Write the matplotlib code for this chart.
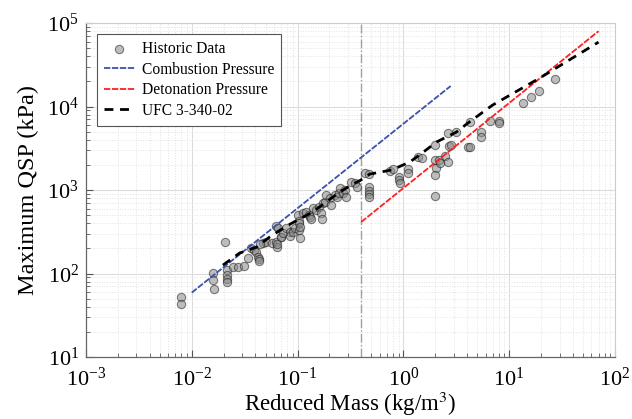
import matplotlib
matplotlib.use("Agg")
import matplotlib.pyplot as plt
import numpy as np

plt.rcParams['font.family'] = ['Liberation Serif', 'DejaVu Serif']
plt.rcParams['mathtext.fontset'] = 'stix'

# Historic data (reduced mass kg/m^3, max QSP kPa)
hist_x = [0.00783, 0.00789, 0.0158, 0.0158, 0.0162, 0.0208, 0.0214, 0.0214, 0.0214, 0.0214,
          0.0243, 0.0274, 0.0310, 0.0341, 0.0367, 0.0385, 0.0409, 0.0424, 0.0433, 0.0428,
          0.0472, 0.0508, 0.0568, 0.0440, 0.0632, 0.0655, 0.0691, 0.0632, 0.0640, 0.0640,
          0.0705, 0.0729, 0.0785, 0.0843, 0.0857, 0.0908, 0.0942, 0.1033, 0.105, 0.101,
          0.1033, 0.1033, 0.1065, 0.1127, 0.121, 0.1285, 0.130, 0.135, 0.140, 0.151,
          0.1596, 0.168, 0.172, 0.174, 0.181, 0.1875, 0.201, 0.209, 0.224, 0.236,
          0.247, 0.250, 0.269, 0.279, 0.285, 0.323, 0.347, 0.362, 0.432, 0.473,
          0.473, 0.473, 0.473, 0.473, 0.743, 0.798, 0.908, 0.908, 0.923, 1.105,
          1.105, 1.374, 1.489, 1.976, 1.976, 2.018, 1.976, 1.976, 2.17, 2.20,
          2.455, 2.64, 2.64, 2.70, 2.84, 3.16, 4.05, 4.29, 4.29, 5.37,
          5.37, 6.53, 8.03, 8.03, 13.5, 16.2, 19.0, 27.2]
hist_y = [51.9, 43.1, 101, 83.6, 65.2, 240, 110, 96, 86, 79.1,
          120.6, 118.6, 123, 152, 200, 191, 182, 159, 148, 143,
          230, 240, 230, 226, 371, 348, 271, 240, 206, 226,
          276, 303, 348, 317, 281, 317, 348, 332, 264, 502,
          429, 399, 363, 526, 550, 502, 479, 446, 604, 576,
          621, 526, 446, 693, 724, 871, 796, 661, 871, 831,
          913, 1048, 913, 1000, 831, 1257, 1203, 1086, 1598, 1555,
          1077, 981, 896, 831, 1703, 1761, 1432, 1306, 1203, 1761,
          1621, 2484, 2437, 3461, 2286, 1820, 1513, 847, 2286, 2134,
          2533, 2183, 4776, 3365, 3461, 4993, 3301, 6520, 3310, 4993,
          4373, 6760, 6670, 6430, 10900, 12900, 15200, 21600]

# Combustion pressure line
comb_x = [0.01, 2.8]
comb_y = [59, 17600]

# Detonation pressure line
det_x = [0.4, 70]
det_y = [414, 80000]

# UFC 3-340-02 curve
ufc_x = [0.0197, 0.0284, 0.041, 0.0546, 0.079, 0.139, 0.251, 0.347, 0.39, 0.48,
         0.776, 1.15, 1.49, 2.06, 3.18, 4.05, 6.97, 19.4, 70]
ufc_y = [126, 176, 207, 274, 371, 546, 946, 1213, 1300, 1550,
         1740, 2160, 2750, 3760, 4950, 6300, 10400, 21900, 59100]

vline_x = 0.4

fig = plt.figure(figsize=(6.32, 4.19), dpi=100)
ax = fig.add_axes([0.136, 0.148, 0.837, 0.797])
ax.set_xscale('log')
ax.set_yscale('log')
ax.set_xlim(1e-3, 1e2)
ax.set_ylim(1e1, 1e5)

ax.grid(True, which='major', color='#dcdcdc', linestyle='-', linewidth=0.8, zorder=0)
ax.grid(True, which='minor', color='#e2e2e2', linestyle=':', linewidth=0.7, zorder=0)
ax.set_axisbelow(True)

ax.axvline(vline_x, color='#a0a0a0', linestyle='-.', linewidth=1.0, zorder=1)

ax.scatter(hist_x, hist_y, s=36, facecolor='#8a8a8a', edgecolor='#1a1a1a',
           linewidths=0.75, alpha=0.55, zorder=3, label='Historic Data')
ax.plot(comb_x, comb_y, color='#3e50ac', linestyle=(0, (3.5, 0.9)), linewidth=1.3,
        zorder=4, label='Combustion Pressure')
ax.plot(det_x, det_y, color='#ff2020', linestyle=(0, (3.5, 0.9)), linewidth=1.3,
        zorder=4, label='Detonation Pressure')
ax.plot(ufc_x, ufc_y, color='black', linestyle=(0, (3.2, 2.4)), linewidth=2.0,
        zorder=5, label='UFC 3-340-02')

ax.tick_params(axis='both', which='both', direction='in', colors='#555555',
               labelcolor='black', labelsize=16)
ax.tick_params(axis='x', which='both', pad=7.5)
ax.tick_params(axis='y', which='both', pad=5)
ax.tick_params(which='major', length=5, width=0.8)
ax.tick_params(which='minor', length=3, width=0.6)
ax.xaxis.set_major_locator(matplotlib.ticker.LogLocator(base=10, numticks=10))
ax.yaxis.set_major_locator(matplotlib.ticker.LogLocator(base=10, numticks=10))
ax.xaxis.set_minor_locator(matplotlib.ticker.LogLocator(base=10, subs=np.arange(2, 10), numticks=20))
ax.yaxis.set_minor_locator(matplotlib.ticker.LogLocator(base=10, subs=np.arange(2, 10), numticks=20))
ax.xaxis.set_minor_formatter(matplotlib.ticker.NullFormatter())
ax.yaxis.set_minor_formatter(matplotlib.ticker.NullFormatter())

for side in ['left', 'bottom']:
    ax.spines[side].set_color('#666666')
    ax.spines[side].set_linewidth(0.9)
for side in ['top', 'right']:
    ax.spines[side].set_color('#cccccc')
    ax.spines[side].set_linewidth(0.8)

ax.set_xlabel('Reduced Mass (kg/m$^3$)', fontsize=16.5, labelpad=-0.5)
ax.set_ylabel('Maximum QSP (kPa)', fontsize=17.5, labelpad=6)

leg = ax.legend(loc='upper left', fontsize=11.2, frameon=True, fancybox=False,
                edgecolor='#555555', framealpha=1, borderpad=0.45, handlelength=2.0,
                handletextpad=0.45, labelspacing=0.3, borderaxespad=0.7, markerscale=1.0)
leg.get_frame().set_linewidth(0.8)

fig.savefig('out.png', dpi=100)
